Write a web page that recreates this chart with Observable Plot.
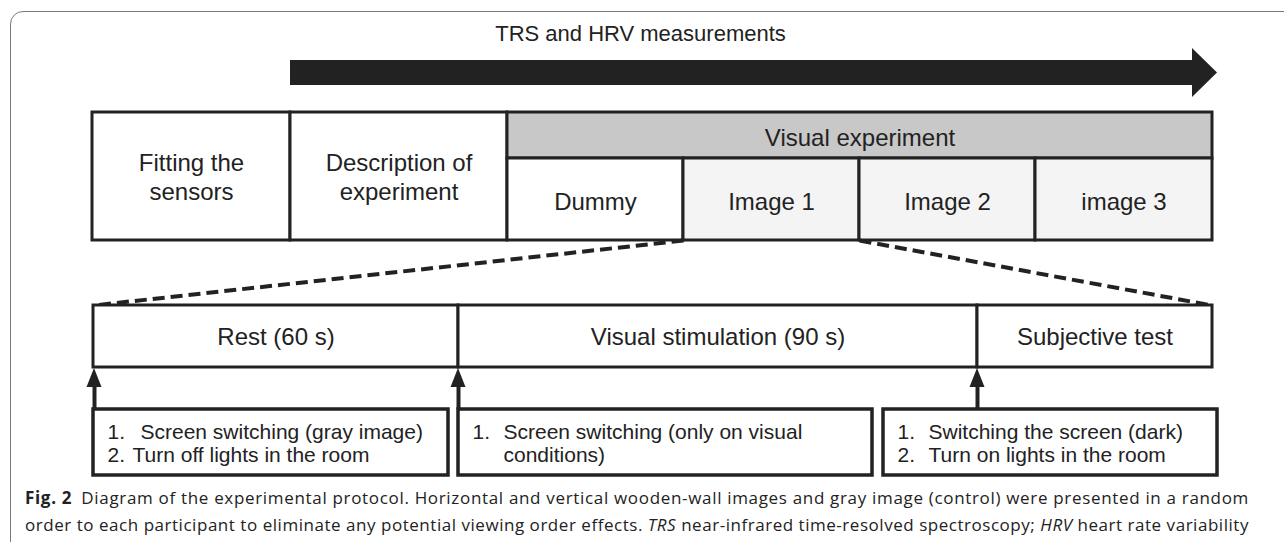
<!DOCTYPE html>
<html>
<head>
<meta charset="utf-8">
<script src="https://cdn.jsdelivr.net/npm/d3@7"></script>
<script src="https://cdn.jsdelivr.net/npm/@observablehq/plot@0.6"></script>
<style>
  html, body { margin: 0; padding: 0; background: #fff; }
  #wrap { position: relative; width: 1284px; height: 542px; overflow: hidden; background: #fff; }
  #chart { position: absolute; left: 0; top: 0; }
  #frame { position: absolute; left: 10px; top: 11px; width: 1320px; height: 600px;
           border: 1.5px solid #7a7a7a; border-radius: 13px; pointer-events: none; box-sizing: border-box; }
  #caption { position: absolute; left: 25px; top: 484px; font-family: "Open Sans", "Noto Sans", sans-serif;
             font-size: 17px; line-height: 27px; color: #222; white-space: nowrap; }
  #caption div { display: block; }
  #caption b { font-weight: 700; }
</style>
</head>
<body>
<div id="wrap">
  <div id="chart"></div>
  <div id="caption"></div>
  <div id="frame"></div>
</div>
<script>
// ---- content (labels) ----
const measurementLabel = "TRS and HRV measurements";
const preparationSteps = ["Fitting the\nsensors", "Description of\nexperiment"];
const experimentLabel = "Visual experiment";
const experimentBlocks = ["Dummy", "Image 1", "Image 2", "image 3"];
const sessionPhases = ["Rest (60 s)", "Visual stimulation (90 s)", "Subjective test"];
const procedureNumbers = [["1.", "2."], ["1.", ""], ["1.", "2."]];
const procedureTexts = [
  ["Screen switching (gray image)", "Turn off lights in the room"],
  ["Screen switching (only on visual", "conditions)"],
  ["Switching the screen (dark)", "Turn on lights in the room"]
];
const captionLine1 = ["Fig. 2", "Diagram of the experimental protocol. Horizontal and vertical wooden-wall images and gray image (control) were presented in a random"];
const captionLine2 = ["order to each participant to eliminate any potential viewing order effects. ", "TRS", " near-infrared time-resolved spectroscopy; ", "HRV", " heart rate variability"];

// ---- layout (diagram coordinates) ----
const W = 1284, H = 480;
const arrowBody = {x1: 290, x2: 1192, y1: 60, y2: 85};
const arrowTip = 1217, arrowHeadTop = 48, arrowHeadBottom = 97;
const topCols = [92, 290, 507, 683, 859, 1035, 1212];
const topRows = [112, 158, 240];
const lowCols = [93, 458, 977, 1212];
const lowRows = [305, 367];
const noteBoxes = [[93, 448], [458, 872], [883, 1217]];
const noteRows = [409, 475];
const noteNumX = [107, 472, 897];
const noteTextX = [[140, 132], [503, 503], [928, 928]];
const noteLineY = [432, 455];
const ink = "#222";

// build tables
const topCells = [
  {x1: topCols[0], x2: topCols[1], y1: topRows[0], y2: topRows[2], fill: "#fff"},
  {x1: topCols[1], x2: topCols[2], y1: topRows[0], y2: topRows[2], fill: "#fff"},
  {x1: topCols[2], x2: topCols[6], y1: topRows[0], y2: topRows[1], fill: "#c8c8c8"},
  ...experimentBlocks.map((b, i) => ({x1: topCols[2 + i], x2: topCols[3 + i], y1: topRows[1], y2: topRows[2], fill: i === 0 ? "#fff" : "#f4f4f4"}))
];
const topTexts = [
  ...preparationSteps.map((t, i) => ({t, x: (topCols[i] + topCols[i + 1]) / 2, y: (topRows[0] + topRows[2]) / 2})),
  {t: experimentLabel, x: (topCols[2] + topCols[6]) / 2, y: (topRows[0] + topRows[1]) / 2 + 1},
  ...experimentBlocks.map((t, i) => ({t, x: (topCols[2 + i] + topCols[3 + i]) / 2, y: (topRows[1] + topRows[2]) / 2 + 1}))
];
const lowCells = sessionPhases.map((t, i) => ({t, x1: lowCols[i], x2: lowCols[i + 1], y1: lowRows[0], y2: lowRows[1]}));
const zoomLinks = [
  {x1: topCols[3], y1: topRows[2], x2: lowCols[0], y2: lowRows[0]},
  {x1: topCols[4], y1: topRows[2], x2: lowCols[3], y2: lowRows[0]}
];
const mainHead = [
  {x: arrowBody.x2, y1: arrowHeadTop, y2: arrowHeadBottom},
  {x: arrowTip, y1: (arrowHeadTop + arrowHeadBottom) / 2, y2: (arrowHeadTop + arrowHeadBottom) / 2}
];
const upArrowX = [lowCols[0] + 1, lowCols[1], lowCols[2]];
const headLen = 19, headHalf = 7.5;
const upHeads = upArrowX.flatMap((x, k) => [
  {k, y: lowRows[1] + 1, x1: x, x2: x},
  {k, y: lowRows[1] + 1 + headLen, x1: x - headHalf, x2: x + headHalf}
]);
const upShafts = upArrowX.map(x => ({x, y1: lowRows[1] + headLen - 2, y2: noteRows[0]}));
const noteCells = noteBoxes.map(([a, b]) => ({x1: a, x2: b, y1: noteRows[0], y2: noteRows[1]}));
const noteNums = procedureNumbers.flatMap((arr, i) => arr.map((n, j) => ({t: n, x: noteNumX[i], y: noteLineY[j]}))).filter(d => d.t);
const noteTxt = procedureTexts.flatMap((arr, i) => arr.map((t, j) => ({t, x: noteTextX[i][j], y: noteLineY[j]})));

const font = "'Liberation Sans', Arial, sans-serif";

const plot = Plot.plot({
  width: W, height: H, margin: 0,
  x: {type: "linear", domain: [0, W], range: [0, W], axis: null},
  y: {type: "linear", domain: [0, H], range: [0, H], axis: null},
  style: {background: "none", fontFamily: font, color: ink},
  marks: [
    // main measurement arrow
    Plot.rect([arrowBody], {x1: "x1", x2: "x2", y1: "y1", y2: "y2", fill: ink}),
    Plot.areaY(mainHead, {x: "x", y1: "y1", y2: "y2", fill: ink, curve: "linear"}),
    Plot.text([measurementLabel], {x: () => 640, y: () => 33, text: d => d, fontSize: 22, fill: ink}),
    // top table
    Plot.rect(topCells, {x1: "x1", x2: "x2", y1: "y1", y2: "y2", fill: "fill", stroke: ink, strokeWidth: 3}),
    Plot.text(topTexts, {x: "x", y: "y", text: "t", fontSize: 24, lineHeight: 1.2, fill: ink}),
    // zoom-in dashed lines
    Plot.link(zoomLinks, {x1: "x1", y1: "y1", x2: "x2", y2: "y2", stroke: ink, strokeWidth: 4, strokeDasharray: "12,6"}),
    // lower table
    Plot.rect(lowCells, {x1: "x1", x2: "x2", y1: "y1", y2: "y2", fill: "#fff", stroke: ink, strokeWidth: 3}),
    Plot.text(lowCells, {x: d => (d.x1 + d.x2) / 2, y: d => (d.y1 + d.y2) / 2 + 1, text: "t", fontSize: 24, fill: ink}),
    // up arrows
    Plot.ruleX(upShafts, {x: "x", y1: "y1", y2: "y2", stroke: ink, strokeWidth: 4}),
    Plot.areaX(upHeads, {y: "y", x1: "x1", x2: "x2", z: "k", fill: ink, curve: "linear"}),
    // procedure boxes
    Plot.rect(noteCells, {x1: "x1", x2: "x2", y1: "y1", y2: "y2", fill: "#fff", stroke: ink, strokeWidth: 3.5}),
    Plot.text(noteNums, {x: "x", y: "y", text: "t", textAnchor: "start", fontSize: 21, fill: ink}),
    Plot.text(noteTxt, {x: "x", y: "y", text: "t", textAnchor: "start", fontSize: 21, fill: ink})
  ]
});
document.getElementById("chart").appendChild(plot);

// caption
const cap = document.getElementById("caption");
const l1 = document.createElement("div");
const b = document.createElement("b"); b.textContent = captionLine1[0];
l1.appendChild(b);
l1.appendChild(document.createTextNode("\u2002" + captionLine1[1]));
const l2 = document.createElement("div");
captionLine2.forEach((s, i) => {
  if (i % 2 === 1) { const e = document.createElement("i"); e.textContent = s; l2.appendChild(e); }
  else l2.appendChild(document.createTextNode(s));
});
cap.appendChild(l1); cap.appendChild(l2);
// fit each line to the reference width
const target = 1224;
[l1, l2].forEach(el => {
  const sp = document.createElement("span");
  while (el.firstChild) sp.appendChild(el.firstChild);
  el.appendChild(sp);
  const w = sp.getBoundingClientRect().width;
  const n = sp.textContent.length;
  sp.style.letterSpacing = ((target - w) / n) + "px";
});
</script>
</body>
</html>
